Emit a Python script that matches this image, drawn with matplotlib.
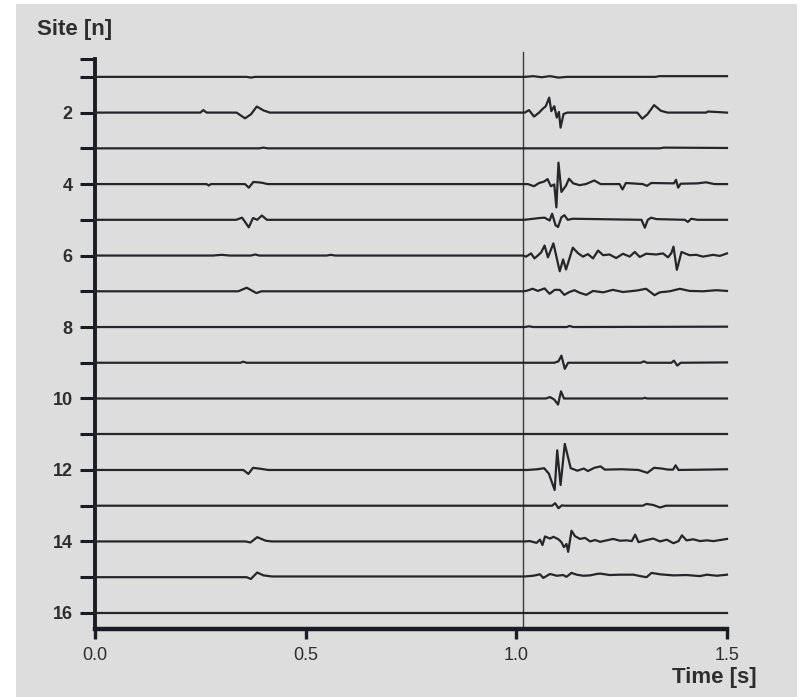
import numpy as np
import matplotlib
matplotlib.use('Agg')
import matplotlib.pyplot as plt
from matplotlib.patches import Rectangle

plt.rcParams['font.family'] = ['Liberation Sans', 'DejaVu Sans']

# time [s] / amplitude [site units, upward positive]
site1_t = [0, 0.36, 0.37, 0.38, 1.02, 1.04, 1.06, 1.08, 1.10, 1.12, 1.33, 1.34, 1.5]
site1_a = [0, 0, -0.02, 0, 0, 0.02, -0.01, 0.02, -0.02, 0, 0, 0.02, 0.02]

site2_t = [0, 0.25, 0.257, 0.265, 0.336, 0.356, 0.37, 0.384, 0.40, 0.415, 1.02, 1.03, 1.042,
           1.054, 1.062, 1.07, 1.078, 1.083, 1.09, 1.096, 1.101, 1.105, 1.112, 1.121, 1.287,
           1.299, 1.311, 1.327, 1.343, 1.359, 1.45, 1.455, 1.5]
site2_a = [0, 0, 0.07, 0, 0, -0.16, -0.05, 0.17, 0.06, 0, 0, 0.07, -0.11, 0.0, 0.1, 0.18,
           0.42, 0.04, 0.18, -0.14, 0.02, -0.42, -0.04, 0.0, 0.0, -0.17, -0.05, 0.21, 0.05,
           0.0, 0.0, 0.03, 0.0]

site3_t = [0, 0.39, 0.40, 0.41, 1.34, 1.35, 1.5]
site3_a = [0, 0, 0.02, 0, 0, 0.02, 0.01]

site4_t = [0, 0.265, 0.27, 0.275, 0.356, 0.365, 0.376, 0.395, 0.41, 1.027, 1.042, 1.054,
           1.066, 1.074, 1.082, 1.09, 1.095, 1.10, 1.107, 1.118, 1.125, 1.135, 1.15, 1.165,
           1.185, 1.20, 1.245, 1.252, 1.26, 1.30, 1.31, 1.32, 1.374, 1.379, 1.384, 1.39,
           1.43, 1.45, 1.47, 1.5]
site4_a = [0, 0, -0.04, 0, 0, -0.1, 0.06, 0.04, 0, 0, -0.06, 0.03, 0.07, 0.14, -0.06, -0.01,
           -0.65, 0.6, -0.22, -0.04, 0.15, 0.02, -0.03, 0.0, 0.1, 0.0, 0, -0.15, 0.03, 0,
           -0.05, 0.03, 0.02, 0.12, -0.1, 0.01, 0.02, 0.05, 0.0, 0.0]

site5_t = [0, 0.335, 0.349, 0.365, 0.375, 0.385, 0.396, 0.408, 1.019, 1.055, 1.067, 1.079,
           1.085, 1.093, 1.099, 1.107, 1.114, 1.122, 1.134, 1.297, 1.305, 1.312, 1.320,
           1.332, 1.40, 1.407, 1.415, 1.43, 1.5]
site5_a = [0, 0, 0.06, -0.21, 0.05, 0, 0.12, 0, 0, 0.05, 0.06, -0.02, 0.17, -0.15, -0.2,
           0.07, 0.13, 0, 0.03, 0, -0.22, 0, 0.06, 0.02, 0, -0.06, 0.03, 0, 0]

site6_t = [0, 0.28, 0.30, 0.32, 0.37, 0.38, 0.39, 0.55, 0.56, 0.57, 1.016, 1.023, 1.035,
           1.043, 1.051, 1.059, 1.067, 1.075, 1.088, 1.103, 1.111, 1.118, 1.134, 1.146,
           1.158, 1.170, 1.182, 1.194, 1.206, 1.221, 1.237, 1.253, 1.269, 1.281, 1.293,
           1.308, 1.332, 1.348, 1.360, 1.368, 1.373, 1.381, 1.392, 1.411, 1.427, 1.443,
           1.467, 1.483, 1.5]
site6_a = [0, 0, 0.02, 0, 0, 0.03, 0, 0, 0.02, 0, 0, -0.03, 0.06, -0.08, 0, 0.09, 0.28,
           -0.05, 0.34, -0.44, -0.11, -0.39, 0.22, 0.07, -0.03, 0.04, -0.08, 0.14, 0.01,
           0.03, -0.07, 0.05, -0.03, 0.1, -0.04, 0.05, 0.03, 0.06, -0.05, 0.07, 0.25, -0.4,
           0.1, 0.01, 0.02, -0.03, 0.02, -0.01, 0.06]

site7_t = [0, 0.34, 0.36, 0.383, 0.395, 1.016, 1.023, 1.039, 1.051, 1.067, 1.079, 1.091,
           1.103, 1.114, 1.126, 1.138, 1.150, 1.166, 1.182, 1.206, 1.229, 1.253, 1.285,
           1.308, 1.328, 1.340, 1.364, 1.388, 1.411, 1.443, 1.475, 1.5]
site7_a = [0, 0, 0.1, -0.05, 0, 0, 0.01, 0.07, 0.01, 0.08, -0.07, 0.04, 0.04, -0.1, -0.02,
           0.03, -0.04, -0.1, 0.01, -0.03, 0.04, -0.02, 0.02, 0.07, -0.11, -0.03, 0, 0.07,
           0.01, 0, 0.03, 0.01]

site8_t = [0, 1.02, 1.03, 1.04, 1.12, 1.126, 1.135, 1.5]
site8_a = [0, 0, 0.02, 0, 0, 0.03, 0, 0.01]

site9_t = [0, 0.345, 0.352, 0.36, 1.02, 1.09, 1.1, 1.107, 1.115, 1.123, 1.295, 1.303,
           1.31, 1.368, 1.374, 1.382, 1.39, 1.5]
site9_a = [0, 0, 0.03, 0, 0, 0, 0.04, 0.2, -0.17, 0, 0, 0.04, 0, 0, 0.06, -0.08, 0, 0.01]

site10_t = [0, 1.02, 1.07, 1.08, 1.09, 1.099, 1.106, 1.113, 1.12, 1.30, 1.305, 1.31, 1.5]
site10_a = [0, 0, 0, 0.04, -0.03, -0.17, 0.2, 0, 0, 0, 0.02, 0, 0]

site11_t = [0, 1.5]
site11_a = [0, 0]

site12_t = [0, 0.352, 0.364, 0.375, 0.395, 0.411, 1.026, 1.05, 1.066, 1.077, 1.091, 1.097,
            1.105, 1.115, 1.129, 1.145, 1.16, 1.17, 1.185, 1.2, 1.21, 1.25, 1.29, 1.311,
            1.327, 1.345, 1.36, 1.372, 1.378, 1.385, 1.45, 1.5]
site12_a = [0, 0, -0.11, 0.06, 0.03, 0, 0, 0.02, 0.05, -0.1, -0.56, 0.55, -0.42, 0.73, 0.05,
            -0.02, 0.04, -0.03, 0.06, 0.1, 0.01, 0.02, 0.0, -0.08, 0.06, 0.04, 0.01, 0.01,
            0.13, 0, 0.01, 0.02]

site13_t = [0, 1.02, 1.085, 1.092, 1.10, 1.108, 1.115, 1.30, 1.309, 1.325, 1.341, 1.355, 1.5]
site13_a = [0, 0, 0, 0.07, -0.07, 0.01, 0, 0, 0.05, 0.02, -0.05, 0, 0]

site14_t = [0, 0.358, 0.369, 0.385, 0.405, 0.42, 1.02, 1.032, 1.048, 1.056, 1.062, 1.068,
            1.08, 1.088, 1.10, 1.107, 1.113, 1.119, 1.123, 1.131, 1.139, 1.151, 1.163,
            1.175, 1.187, 1.199, 1.214, 1.23, 1.246, 1.262, 1.274, 1.282, 1.29, 1.309,
            1.325, 1.341, 1.357, 1.373, 1.385, 1.393, 1.404, 1.42, 1.436, 1.452, 1.468,
            1.484, 1.5]
site14_a = [0, 0, -0.03, 0.12, 0.02, 0, 0, 0.01, -0.04, 0.05, -0.1, 0.14, 0.08, 0.13, 0.06,
            -0.02, -0.16, -0.07, -0.29, 0.3, 0.15, 0.07, 0.1, 0, 0.04, -0.01, 0.03, 0.07,
            0.02, 0.03, 0.01, 0.19, -0.02, 0.04, 0.08, 0, 0.05, -0.05, 0.01, 0.17, 0.03,
            0.06, 0.01, 0.03, 0.01, 0.04, 0.07]

site15_t = [0, 0.36, 0.37, 0.385, 0.40, 0.42, 1.02, 1.04, 1.056, 1.064, 1.08, 1.096, 1.111,
            1.119, 1.131, 1.143, 1.159, 1.175, 1.191, 1.199, 1.222, 1.246, 1.278, 1.294,
            1.309, 1.321, 1.341, 1.373, 1.404, 1.436, 1.452, 1.476, 1.5]
site15_a = [0, 0, -0.05, 0.13, 0.05, 0.02, 0.02, 0.04, 0.08, -0.02, 0.09, 0.04, 0.06, 0.01,
            0.12, 0.07, 0.04, 0.05, 0.09, 0.1, 0.06, 0.07, 0.07, 0.03, 0, 0.12, 0.08, 0.05,
            0.06, 0.03, 0.07, 0.04, 0.07]

site16_t = [0, 1.5]
site16_a = [0, 0]

sites = list(range(1, 17))
traces = [
    (site1_t, site1_a), (site2_t, site2_a), (site3_t, site3_a), (site4_t, site4_a),
    (site5_t, site5_a), (site6_t, site6_a), (site7_t, site7_a), (site8_t, site8_a),
    (site9_t, site9_a), (site10_t, site10_a), (site11_t, site11_a), (site12_t, site12_a),
    (site13_t, site13_a), (site14_t, site14_a), (site15_t, site15_a), (site16_t, site16_a),
]
marker_time = 1.015
x_ticks = [0.0, 0.5, 1.0, 1.5]
y_ticks = [0.5] + sites
y_labels = [''] + [str(s) if s % 2 == 0 else '' for s in sites]

ink = '#262629'
axis_ink = '#1b1b26'
paper = '#dddddd'

fig = plt.figure(figsize=(8.05, 6.97), dpi=100, facecolor='white')
fig.patches.append(Rectangle((16 / 805, 0), 781 / 805, 1 - 4 / 697,
                             transform=fig.transFigure, facecolor=paper,
                             edgecolor='none', zorder=-10))

ax = fig.add_axes([95 / 805, 1 - 629 / 697, 632 / 805, 570 / 697])
ax.set_facecolor('none')

for site, (t, a) in zip(sites, traces):
    ax.plot(t, site - np.array(a), color=ink, lw=1.6, solid_joinstyle='round',
            clip_on=False, zorder=3)

ax.plot([marker_time, marker_time], [16.45, 0.3], color='#3a3a3a', lw=1.0,
        clip_on=False, zorder=2)

ax.set_xlim(0, 1.5)
ax.set_ylim(16.45, 0.5)

ax.spines['top'].set_visible(False)
ax.spines['right'].set_visible(False)
ax.spines['left'].set_linewidth(2.8)
ax.spines['bottom'].set_linewidth(3.2)
ax.spines['left'].set_color(axis_ink)
ax.spines['bottom'].set_color(axis_ink)

ax.set_xticks(x_ticks)
ax.set_xticklabels([f'{v:.1f}' for v in x_ticks])
ax.set_yticks(y_ticks)
ax.set_yticklabels(y_labels)
ax.tick_params(axis='y', direction='out', length=11, width=2.2, color=axis_ink,
               pad=5, labelsize=13, labelcolor='#2e2e2e')
ax.tick_params(axis='x', direction='out', length=7, width=2.4, color=axis_ink,
               pad=6, labelsize=13, labelcolor='#2e2e2e')
for lab in ax.get_yticklabels():
    lab.set_fontweight('bold')

fig.text(37 / 805, 1 - 30 / 697, 'Site [n]', fontsize=16, fontweight='bold',
         color='#2e2e2e', ha='left', va='center')
fig.text(714 / 805, 1 - 677 / 697, 'Time [s]', fontsize=16, fontweight='bold',
         color='#2e2e2e', ha='center', va='center')

fig.savefig('out.png', dpi=100, facecolor=fig.get_facecolor())
